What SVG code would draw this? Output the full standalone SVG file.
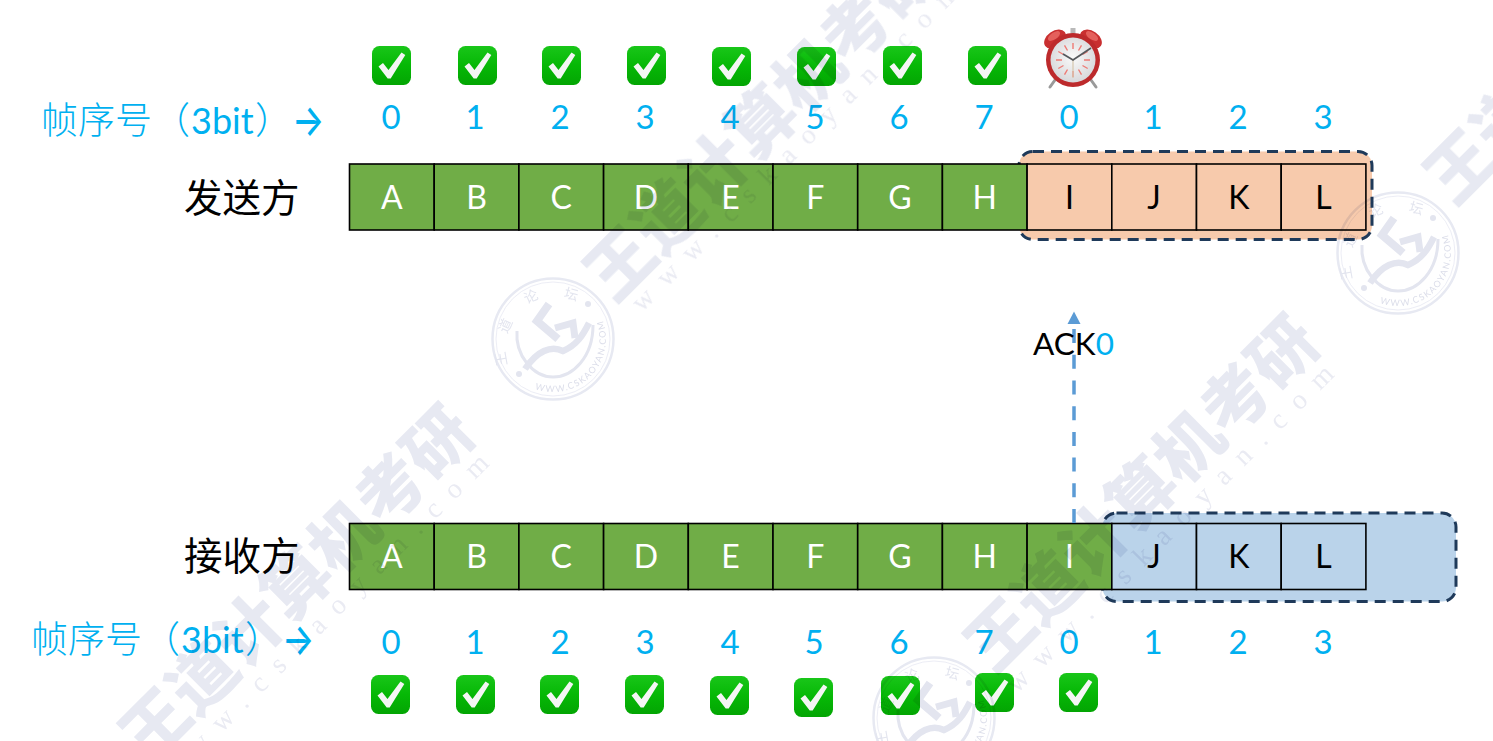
<svg xmlns="http://www.w3.org/2000/svg" xmlns:xlink="http://www.w3.org/1999/xlink" width="1493" height="741" viewBox="0 0 1493 741">
<style>
text{font-family:"Lato","Noto Sans CJK SC",sans-serif}
.cell{stroke:#000;stroke-width:1.6}
.g{fill:#70ad47}.o{fill:#f7caac}.b{fill:#bad3ea}
.lw{font-size:32px;fill:#fff;text-anchor:middle}
.lk{font-size:32px;fill:#000;text-anchor:middle}
.num{font-size:33px;fill:#00b0f0;text-anchor:middle}
.cap{font-size:37px;fill:#00b0f0;font-family:"Noto Sans CJK SC",sans-serif;font-weight:300}
.arr{font-size:40px;fill:#00b0f0;font-family:"Inter",sans-serif;font-weight:500}
.latin{font-family:"Lato",sans-serif;font-size:36px;font-weight:400}
.role{font-size:38.500px;fill:#000;font-family:"Noto Sans CJK SC",sans-serif;font-weight:400}
.win{stroke:#1f3a5a;stroke-width:3;stroke-dasharray:11 7}
.wmt{font-family:"Noto Sans CJK SC",sans-serif;font-weight:900;font-size:66.500px;fill:#e7e9f2}
.wmu{font-family:"Liberation Serif",serif;font-size:28px;letter-spacing:15px;fill:#eaebf3}
.ring{fill:none;stroke:#e7e9f2}
.sealc{font-family:"Noto Sans CJK SC",sans-serif;font-size:14px;fill:#e3e5ef;text-anchor:middle}
</style>
<defs>
<linearGradient id="gg" x1="0" y1="0" x2="0" y2="1"><stop offset="0" stop-color="#19c619"/><stop offset=".5" stop-color="#06b806"/><stop offset="1" stop-color="#03a503"/></linearGradient>
<radialGradient id="face" cx=".5" cy=".45" r=".6"><stop offset="0" stop-color="#fafafa"/><stop offset="1" stop-color="#d5d5d8"/></radialGradient>
<g id="chk">
<rect x="0" y="0" width="39" height="39" rx="7.500" fill="url(#gg)"/>
<path d="M6.500 20.500l4.500-3.600 5.500 7L29.500 6.500l3.800 2.400-14.600 23.600h-3z" fill="#f4f6f4"/>
</g>
<g id="seal">
<circle r="60.500" class="ring" stroke-width="2.500"/>
<circle r="57" class="ring" stroke-width="0.800"/>
<path d="M-4-35L-16-18 5 0" fill="none" stroke="#e3e5ef" stroke-width="8"/>
<path d="M2-11L20-16 22-1" fill="none" stroke="#e3e5ef" stroke-width="7"/>
<path d="M-28 30C-16 12-2 6 10 12 24 6 30-4 36-16" fill="none" stroke="#e3e5ef" stroke-width="6.500"/>
<path d="M-36-8C-38 16-20 38 0 38 20 38 40 18 40-14" fill="none" stroke="#e3e5ef" stroke-width="3"/>
<circle cx="35" cy="-35" r="3" fill="#e3e5ef"/><circle cx="-34" cy="35" r="3" fill="#e3e5ef"/>
<text class="sealc" transform="translate(-47 19) rotate(-100)">王</text>
<text class="sealc" transform="translate(-43 -11) rotate(-65)">道</text>
<text class="sealc" transform="translate(-20 -38) rotate(-25)">论</text>
<text class="sealc" transform="translate(17 -40) rotate(15)">坛</text>
<path id="sealarc" d="M-18 50A53 53 0 0 0 49 -20" fill="none"/>
<text font-family="Liberation Serif,serif" font-size="9" letter-spacing="1.300" fill="#dcdeea"><textPath xlink:href="#sealarc" href="#sealarc">WWW.CSKAOYAN.COM</textPath></text>
</g>
</defs>
<rect width="1493" height="741" fill="#fff"/>

<g id="sender-window"><rect class="win o" x="1019" y="151.500" width="353" height="88" rx="14"/></g>
<g id="receiver-window"><rect class="win b" x="1102.500" y="513" width="353.500" height="88.500" rx="14"/></g>

<g id="sender-row">
<g id="s-A"><rect class="cell g" x="349.500" y="164" width="84.700" height="66"/><text class="lw" x="391.800" y="209">A</text></g>
<g id="s-B"><rect class="cell g" x="434.200" y="164" width="84.700" height="66"/><text class="lw" x="476.500" y="209">B</text></g>
<g id="s-C"><rect class="cell g" x="518.900" y="164" width="84.700" height="66"/><text class="lw" x="561.200" y="209">C</text></g>
<g id="s-D"><rect class="cell g" x="603.600" y="164" width="84.700" height="66"/><text class="lw" x="645.900" y="209">D</text></g>
<g id="s-E"><rect class="cell g" x="688.300" y="164" width="84.700" height="66"/><text class="lw" x="730.600" y="209">E</text></g>
<g id="s-F"><rect class="cell g" x="773" y="164" width="84.700" height="66"/><text class="lw" x="815.300" y="209">F</text></g>
<g id="s-G"><rect class="cell g" x="857.700" y="164" width="84.700" height="66"/><text class="lw" x="900" y="209">G</text></g>
<g id="s-H"><rect class="cell g" x="942.400" y="164" width="84.700" height="66"/><text class="lw" x="984.700" y="209">H</text></g>
<g id="s-I"><rect class="cell o" x="1027.100" y="164" width="84.700" height="66"/><text class="lk" x="1069.400" y="209">I</text></g>
<g id="s-J"><rect class="cell o" x="1111.800" y="164" width="84.700" height="66"/><text class="lk" x="1154.100" y="209">J</text></g>
<g id="s-K"><rect class="cell o" x="1196.500" y="164" width="84.700" height="66"/><text class="lk" x="1238.800" y="209">K</text></g>
<g id="s-L"><rect class="cell o" x="1281.200" y="164" width="84.700" height="66"/><text class="lk" x="1323.500" y="209">L</text></g>
</g>

<g id="receiver-row">
<g id="r-A"><rect class="cell g" x="349.500" y="523.500" width="84.700" height="66"/><text class="lw" x="391.800" y="568">A</text></g>
<g id="r-B"><rect class="cell g" x="434.200" y="523.500" width="84.700" height="66"/><text class="lw" x="476.500" y="568">B</text></g>
<g id="r-C"><rect class="cell g" x="518.900" y="523.500" width="84.700" height="66"/><text class="lw" x="561.200" y="568">C</text></g>
<g id="r-D"><rect class="cell g" x="603.600" y="523.500" width="84.700" height="66"/><text class="lw" x="645.900" y="568">D</text></g>
<g id="r-E"><rect class="cell g" x="688.300" y="523.500" width="84.700" height="66"/><text class="lw" x="730.600" y="568">E</text></g>
<g id="r-F"><rect class="cell g" x="773" y="523.500" width="84.700" height="66"/><text class="lw" x="815.300" y="568">F</text></g>
<g id="r-G"><rect class="cell g" x="857.700" y="523.500" width="84.700" height="66"/><text class="lw" x="900" y="568">G</text></g>
<g id="r-H"><rect class="cell g" x="942.400" y="523.500" width="84.700" height="66"/><text class="lw" x="984.700" y="568">H</text></g>
<g id="r-I"><rect class="cell g" x="1027.100" y="523.500" width="84.700" height="66"/><text class="lw" x="1069.400" y="568">I</text></g>
<g id="r-J"><rect class="cell b" x="1111.800" y="523.500" width="84.700" height="66"/><text class="lk" x="1154.100" y="568">J</text></g>
<g id="r-K"><rect class="cell b" x="1196.500" y="523.500" width="84.700" height="66"/><text class="lk" x="1238.800" y="568">K</text></g>
<g id="r-L"><rect class="cell b" x="1281.200" y="523.500" width="84.700" height="66"/><text class="lk" x="1323.500" y="568">L</text></g>
</g>

<g id="connectors">
<path d="M1074 523V324" fill="none" stroke="#5b9bd5" stroke-width="3.500" stroke-dasharray="14 11.700"/>
<path d="M1074 311.500l6.500 12.500h-13z" fill="#5b9bd5"/>
</g>

<g id="ack-label"><text x="1033" y="355" font-size="31.500"><tspan fill="#000">ACK</tspan><tspan fill="#00b0f0">0</tspan></text></g>
<g id="sender-role"><text class="role" x="184" y="212">发送方</text></g>
<g id="receiver-role"><text class="role" x="184" y="570">接收方</text></g>
<g id="sender-caption">
<text class="cap" x="41" y="134">帧序号<tspan x="153">（</tspan><tspan class="latin" x="191">3bit</tspan><tspan x="255">）</tspan></text>
<text class="arr" transform="translate(292 136) scale(.85 1.1)">→</text>
</g>
<g id="receiver-caption">
<text class="cap" x="31" y="653">帧序号<tspan x="143">（</tspan><tspan class="latin" x="181">3bit</tspan><tspan x="245">）</tspan></text>
<text class="arr" transform="translate(282 655) scale(.85 1.1)">→</text>
</g>

<g id="sender-numbers">
<text class="num" x="391" y="129">0</text><text class="num" x="475" y="129">1</text><text class="num" x="560" y="129">2</text><text class="num" x="645" y="129">3</text><text class="num" x="730" y="129">4</text><text class="num" x="815" y="129">5</text><text class="num" x="899" y="129">6</text><text class="num" x="984" y="129">7</text><text class="num" x="1069" y="129">0</text><text class="num" x="1153" y="129">1</text><text class="num" x="1238" y="129">2</text><text class="num" x="1323" y="129">3</text>
</g>
<g id="receiver-numbers">
<text class="num" x="391" y="654">0</text><text class="num" x="475" y="654">1</text><text class="num" x="560" y="654">2</text><text class="num" x="645" y="654">3</text><text class="num" x="730" y="654">4</text><text class="num" x="814" y="654">5</text><text class="num" x="899" y="654">6</text><text class="num" x="984" y="654">7</text><text class="num" x="1069" y="654">0</text><text class="num" x="1153" y="654">1</text><text class="num" x="1238" y="654">2</text><text class="num" x="1323" y="654">3</text>
</g>

<g id="sender-checks">
<use href="#chk" x="372" y="46"/><use href="#chk" x="458" y="46"/><use href="#chk" x="542" y="46"/><use href="#chk" x="627" y="46"/><use href="#chk" x="712" y="47"/><use href="#chk" x="797" y="47"/><use href="#chk" x="883" y="46"/><use href="#chk" x="968" y="46"/>
</g>
<g id="receiver-checks">
<use href="#chk" x="371" y="675"/><use href="#chk" x="456" y="675"/><use href="#chk" x="540" y="675"/><use href="#chk" x="625" y="675"/><use href="#chk" x="710" y="676"/><use href="#chk" x="794" y="678"/><use href="#chk" x="881" y="676"/><use href="#chk" x="975" y="673"/><use href="#chk" x="1059" y="673"/>
</g>

<g id="alarm-clock">
<path d="M1055 80l-5 7M1091 80l5 7" stroke="#9a9a9a" stroke-width="3" stroke-linecap="round"/>
<ellipse cx="1055" cy="39" rx="12" ry="8" transform="rotate(-35 1055 39)" fill="#c92f30"/>
<ellipse cx="1091" cy="39" rx="12" ry="8" transform="rotate(35 1091 39)" fill="#c92f30"/>
<ellipse cx="1054" cy="36" rx="7" ry="3.500" transform="rotate(-35 1054 36)" fill="#e4605c"/>
<ellipse cx="1092" cy="36" rx="7" ry="3.500" transform="rotate(35 1092 36)" fill="#e4605c"/>
<rect x="1070.500" y="28" width="5" height="6" fill="#b9b9b9"/>
<circle cx="1073" cy="60" r="27" fill="#bd2a2c"/>
<circle cx="1073" cy="60" r="22.500" fill="url(#face)"/>
<path d="M1073 43v6M1073 71v6M1056 60h6M1084 60h6M1064.500 45.300l3 5.200M1078.500 69.500l3 5.200M1064.500 74.700l3-5.200M1078.500 50.500l3-5.200M1058.300 51.500l5.200 3M1082.500 65.500l5.200 3M1058.300 68.500l5.200-3M1082.500 54.500l5.200-3" stroke="#ee7b75" stroke-width="1.400" fill="none"/>
<path d="M1073 60v18" stroke="#d6c6ae" stroke-width="1.200"/>
<path d="M1063 54l10 6 18-12" stroke="#55585c" stroke-width="1.800" fill="none"/>
</g>

<g id="watermark" style="mix-blend-mode:multiply">
<text class="wmt" transform="translate(149 765) rotate(-45)">王道计算机考研</text>
<text class="wmt" transform="translate(614 304) rotate(-45)">王道计算机考研</text>
<text class="wmt" transform="translate(994 675) rotate(-45)">王道计算机考研</text>
<text class="wmt" transform="translate(1454 207) rotate(-45)">王道计算机考研</text>
<text class="wmu" transform="translate(172 783) rotate(-45)">www.cskaoyan.com</text>
<text class="wmu" transform="translate(642 313) rotate(-45)">www.cskaoyan.com</text>
<text class="wmu" transform="translate(1017 694) rotate(-45)">www.cskaoyan.com</text>
<use href="#seal" transform="translate(553 339)"/>
<use href="#seal" transform="translate(1398 253)"/>
<use href="#seal" transform="translate(934 718)"/>
</g>
</svg>
